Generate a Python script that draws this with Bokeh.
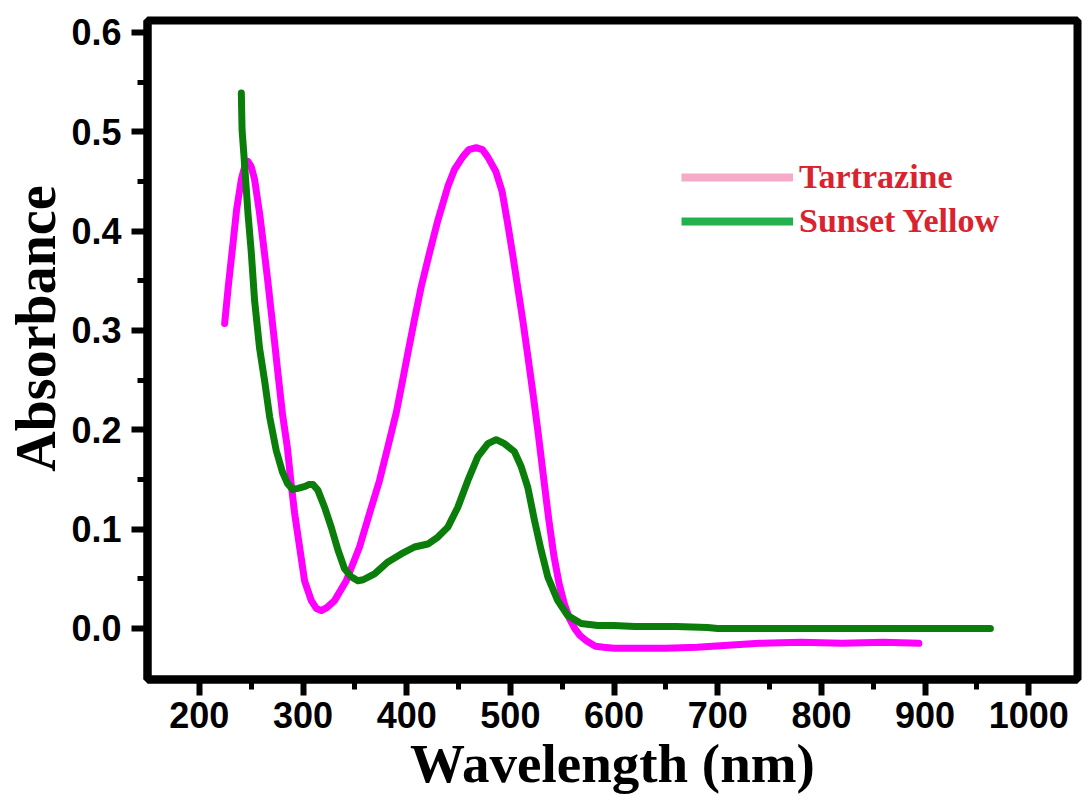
from bokeh.plotting import figure
from bokeh.models import FixedTicker, NumeralTickFormatter, Legend, LegendItem, Title
from bokeh.embed import file_html
from bokeh.resources import INLINE

# --- data ---
tartrazine_x = [224.4, 228, 232.5, 236, 240.5, 244, 247, 250, 253.3, 258.1, 261.4, 266, 269.4,
                272.6, 275.8, 280.3, 284.8, 288.3, 291.9, 296.7, 301.5, 308, 313, 317.6, 323,
                330.4, 341.7, 354.5, 364.2, 373.8, 381.9, 389.9, 395, 401.1, 407.5, 414, 422,
                430.1, 439.7, 446.1, 454.2, 460, 467, 473, 478, 486, 492, 497, 502, 507, 512,
                517, 522, 527, 532, 537, 542, 547, 552, 557, 562, 567, 574, 582, 590, 600, 620,
                650, 680, 710, 740, 780, 820, 860, 894]
tartrazine_y = [0.307, 0.345, 0.388, 0.422, 0.452, 0.466, 0.470, 0.465, 0.452, 0.418, 0.39,
                0.35, 0.318, 0.288, 0.257, 0.215, 0.183, 0.148, 0.116, 0.082, 0.048, 0.028, 0.02,
                0.018, 0.021, 0.028, 0.048, 0.082, 0.116, 0.149, 0.183, 0.217, 0.244, 0.277,
                0.311, 0.344, 0.378, 0.411, 0.445, 0.462, 0.475, 0.482, 0.484, 0.482, 0.475,
                0.46, 0.44, 0.41, 0.378, 0.344, 0.31, 0.273, 0.235, 0.195, 0.152, 0.11, 0.073,
                0.045, 0.025, 0.01, 0.0, -0.007, -0.013, -0.018, -0.019, -0.02, -0.02, -0.02,
                -0.019, -0.017, -0.015, -0.014, -0.015, -0.014, -0.015]

sunset_x = [240.5, 241.2, 243.1, 246.9, 250, 253.3, 258.1, 263, 267.8, 274.2, 280, 285, 290,
            295.1, 302, 306, 309.6, 314.4, 320.8, 327.2, 333.7, 340.1, 346.5, 352.9, 358, 369,
            381.9, 394.7, 407.5, 420.4, 430.1, 439.7, 449.3, 459, 468.6, 478.3, 486.3, 494.3,
            503.9, 510.4, 516.8, 523.2, 529.6, 536.1, 545.7, 555.3, 568.2, 584.3, 600, 620, 660,
            690, 700, 750, 800, 850, 900, 963]
sunset_y = [0.539, 0.502, 0.475, 0.418, 0.38, 0.33, 0.282, 0.249, 0.213, 0.179, 0.158, 0.146,
            0.14, 0.141, 0.143, 0.145, 0.145, 0.139, 0.122, 0.102, 0.079, 0.06, 0.052, 0.048,
            0.049, 0.055, 0.067, 0.075, 0.082, 0.085, 0.092, 0.102, 0.122, 0.149, 0.173, 0.186,
            0.19, 0.186, 0.178, 0.163, 0.142, 0.109, 0.079, 0.052, 0.028, 0.013, 0.005, 0.003,
            0.003, 0.002, 0.002, 0.001, 0.0, 0.0, 0.0, 0.0, 0.0, 0.0]

x_major_ticks = [200, 300, 400, 500, 600, 700, 800, 900, 1000]
x_minor_ticks = [250, 350, 450, 550, 650, 750, 850, 950]
y_major_ticks = [0.0, 0.1, 0.2, 0.3, 0.4, 0.5, 0.6]
y_minor_ticks = [0.05, 0.15, 0.25, 0.35, 0.45, 0.55]

series_labels = ["Tartrazine", "Sunset Yellow"]
line_colors = ["#ff00ff", "#0a7d0a"]
legend_colors = ["#f7a9c8", "#22b14c"]

p = figure(width=1085, height=796, x_range=(150, 1047), y_range=(-0.0514, 0.612),
           output_backend="svg", toolbar_location=None,
           min_border_left=146, min_border_right=8, min_border_top=20, min_border_bottom=117,
           background_fill_color="white", border_fill_color="white")

p.outline_line_color = "black"
p.outline_line_width = 8
p.xgrid.visible = False
p.ygrid.visible = False

p.xaxis.ticker = FixedTicker(ticks=x_major_ticks, minor_ticks=x_minor_ticks)
p.yaxis.ticker = FixedTicker(ticks=y_major_ticks, minor_ticks=y_minor_ticks)
p.yaxis.formatter = NumeralTickFormatter(format="0.0")
p.xaxis.formatter = NumeralTickFormatter(format="0")

for ax in (p.xaxis, p.yaxis):
    ax.axis_line_width = 8
    ax.axis_line_color = "black"
    ax.major_tick_line_width = 6
    ax.minor_tick_line_width = 5
    ax.major_tick_in = 0
    ax.minor_tick_in = 0
    ax.major_tick_out = 16
    ax.minor_tick_out = 10
    ax.major_label_text_font = "Liberation Sans"
    ax.major_label_text_font_style = "bold"
    ax.major_label_text_font_size = "36px"
    ax.major_label_text_color = "black"

p.xaxis.axis_label = "Wavelength (nm)"
p.xaxis.axis_label_text_font = "Liberation Serif"
p.xaxis.axis_label_text_font_style = "bold"
p.xaxis.axis_label_text_color = "black"
p.xaxis.axis_label_text_font_size = "55px"
p.xaxis.major_label_standoff = 6
p.xaxis.axis_label_standoff = 2
p.yaxis.major_label_standoff = 10

ytitle = Title(text="Absorbance", align="right", offset=165, standoff=4,
               text_font="Liberation Serif", text_font_style="bold",
               text_font_size="56px", text_color="black")
p.add_layout(ytitle, "left")

p.line(tartrazine_x, tartrazine_y, line_color=line_colors[0], line_width=7,
       line_join="round", line_cap="round")
p.line(sunset_x, sunset_y, line_color=line_colors[1], line_width=7,
       line_join="round", line_cap="round")

# legend swatches (their colours differ from the plotted lines in the reference)
nan = float("nan")
lg1 = p.line(x=[nan], y=[nan], line_color=legend_colors[0], line_width=8)
lg2 = p.line(x=[nan], y=[nan], line_color=legend_colors[1], line_width=8)
legend = Legend(items=[LegendItem(label=series_labels[0], renderers=[lg1]),
                       LegendItem(label=series_labels[1], renderers=[lg2])],
                location=(534, 439), glyph_width=112, glyph_height=36, label_height=36,
                spacing=6, padding=0, margin=0, label_standoff=6,
                border_line_color=None, background_fill_alpha=0,
                label_text_font="Liberation Serif", label_text_font_style="bold",
                label_text_font_size="34px", label_text_color="#d9232e")
p.add_layout(legend, "center")

open("out.html", "w").write(file_html(p, INLINE))
